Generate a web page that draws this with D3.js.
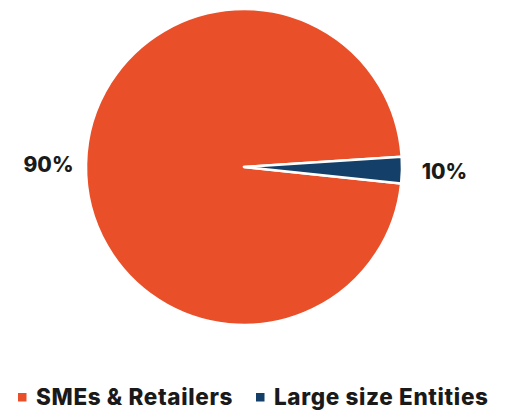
<!DOCTYPE html>
<html>
<head>
<meta charset="utf-8">
<script src="https://cdn.jsdelivr.net/npm/d3@7"></script>
<style>
  body { margin: 0; background: #fff; }
  text { font-family: Inter, "Noto Sans", sans-serif; font-weight: 800; fill: #1a1a1a; }
</style>
</head>
<body>
<div id="chart"></div>
<script>
// Chart data
var categories = ["SMEs & Retailers", "Large size Entities"];
// slice shares as drawn in the picture (the wedge is much thinner than its label)
var sliceShares = [97.3, 2.7];
var valueLabels = ["90%", "10%"];
var colors = ["#e9502a", "#133f68"];

var width = 506, height = 411;

var svg = d3.select("#chart")
    .append("svg")
    .attr("width", width)
    .attr("height", height);

var cx = 244, cy = 167, radius = 158;

var pie = d3.pie()
    .sort(null)
    .startAngle(96 * Math.PI / 180)
    .endAngle(96 * Math.PI / 180 + 2 * Math.PI)
    .value(d => d);

var arc = d3.arc()
    .innerRadius(0)
    .outerRadius(radius);

var arcs = pie(sliceShares);

var g = svg.append("g")
    .attr("transform", `translate(${cx},${cy})`);

g.selectAll("path")
    .data(arcs)
    .enter().append("path")
    .attr("d", arc)
    .attr("fill", (d, i) => colors[i])
    .attr("stroke", "#fff")
    .attr("stroke-width", 2.5)
    .attr("stroke-linejoin", "round");

// value labels outside the pie
var labelPos = [[48.5, 172], [444.5, 179]];
svg.selectAll(".val")
    .data(valueLabels)
    .enter().append("text")
    .attr("class", "val")
    .attr("x", (d, i) => labelPos[i][0])
    .attr("y", (d, i) => labelPos[i][1])
    .attr("text-anchor", "middle")
    .style("font-size", "21px")
    .text(d => d);

// legend
var legendX = [18, 256];
var legend = svg.selectAll(".legend")
    .data(categories)
    .enter().append("g")
    .attr("class", "legend")
    .attr("transform", (d, i) => `translate(${legendX[i]}, 405)`);

legend.append("rect")
    .attr("x", 0)
    .attr("y", -12)
    .attr("width", 8.5)
    .attr("height", 8.5)
    .attr("fill", (d, i) => colors[i]);

legend.append("text")
    .attr("x", 18)
    .attr("y", 0)
    .style("font-size", "22.5px")
    .style("letter-spacing", "0.65px")
    .text(d => d);
</script>
</body>
</html>
